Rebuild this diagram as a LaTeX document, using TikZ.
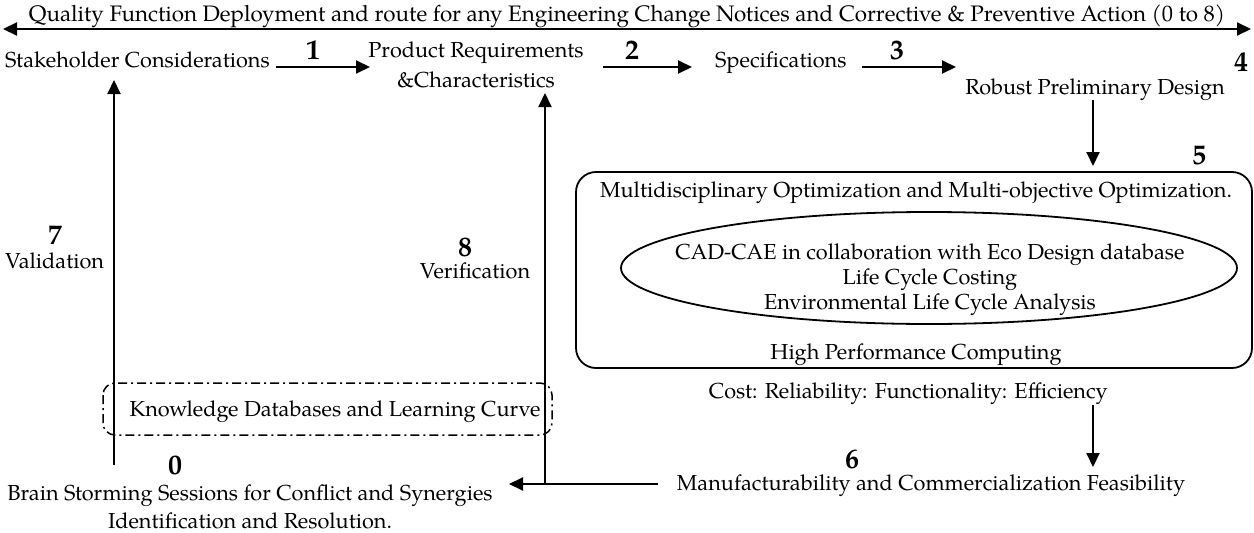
\documentclass[tikz,border=0pt]{standalone}
\usepackage{fontspec}
\setmainfont{texgyrepagella}[Extension=.otf, UprightFont=*-regular, BoldFont=*-bold, ItalicFont=*-italic, BoldItalicFont=*-bolditalic]
\usetikzlibrary{arrows.meta,shapes.geometric}

\tikzset{
  txt/.style={font=\fontsize{21.7}{29}\selectfont, inner sep=0pt, align=center},
  toptxt/.style={font=\fontsize{22.4}{29}\selectfont, inner sep=0pt},
  num/.style={font=\fontsize{28}{32}\selectfont\bfseries, inner sep=0pt},
  flow/.style={line width=2pt, -{Triangle[length=14pt,width=13pt]}},
  twoway/.style={line width=2pt, {Triangle[length=14pt,width=13pt]}-{Triangle[length=14pt,width=13pt]}},
  frame/.style={draw, line width=1.8pt, rounded corners=20pt},
  kbox/.style={draw, line width=1.5pt, rounded corners=12pt,
    dash pattern=on 9pt off 4pt on 2pt off 4pt},
}

\begin{document}
\begin{tikzpicture}[x=1pt,y=-1pt]
\useasboundingbox (0,0) rectangle (1254,533);

% overall route
\node[toptxt, anchor=base] (qfd) at (627,21) {Quality Function Deployment and route for any Engineering Change Notices and Corrective \& Preventive Action (0 to 8)};
\coordinate (qfdL) at (3,29);
\coordinate (qfdR) at (1251,29);
\draw[twoway] (qfdL) -- (qfdR);

% first row
\node[txt, anchor=base west] (stake) at (5,67) {Stakeholder Considerations};
\node[txt, anchor=base] (req1) at (476,57) {Product Requirements};
\node[txt, anchor=base] (req2) at (476,87) {\&Characteristics};
\node[txt, anchor=base west] (spec) at (715,67) {Specifications};
\node[txt, anchor=base] (robust) at (1095,94) {Robust Preliminary Design};

\coordinate (a1s) at (276,67); \coordinate (a1e) at (370,67);
\coordinate (a2s) at (603,67); \coordinate (a2e) at (692,67);
\coordinate (a3s) at (862,67); \coordinate (a3e) at (956,67);
\draw[flow] (a1s) -- (a1e);
\draw[flow] (a2s) -- (a2e);
\draw[flow] (a3s) -- (a3e);
\node[num] (n1) at (313,50) {1};
\node[num] (n2) at (632,50) {2};
\node[num] (n3) at (897,50) {3};
\node[num] (n4) at (1241,62) {4};

% optimisation block
\coordinate (d4s) at (1093,100); \coordinate (d4e) at (1093,166);
\draw[flow] (d4s) -- (d4e);
\node[num] (n5) at (1199,156) {5};
\draw[frame] (576,172) rectangle (1252,368);
\node[txt, anchor=base] (mdo) at (916,197) {Multidisciplinary Optimization and Multi-objective Optimization.};
\node[draw, line width=1.8pt, ellipse, minimum width=616pt, minimum height=112pt, inner sep=0pt] (eco) at (929,268) {};
\node[txt, anchor=base] (cad) at (930,259) {CAD-CAE in collaboration with Eco Design database};
\node[txt, anchor=base] (lcc) at (930,284) {Life Cycle Costing};
\node[txt, anchor=base] (lca) at (930,309) {Environmental Life Cycle Analysis};
\node[txt, anchor=base] (hpc) at (916,359) {High Performance Computing};
\node[txt, anchor=base east] (cost) at (1108,398) {Cost: Reliability: Functionality: Efficiency};

% manufacturing and feedback
\coordinate (d5s) at (1093,405); \coordinate (d5e) at (1093,467);
\draw[flow] (d5s) -- (d5e);
\node[txt, anchor=base] (manu) at (931,490) {Manufacturability and Commercialization Feasibility};
\node[num] (n6) at (852,459) {6};
\coordinate (m0s) at (658,484); \coordinate (m0e) at (509,484);
\coordinate (v8s) at (545,484); \coordinate (v8e) at (545,93);
\draw[flow] (m0s) -- (m0e);
\draw[flow] (v8s) -- (v8e);
\node[num] (n8) at (465,247) {8};
\node[txt, anchor=base] (verif) at (475,278) {Verification};

\coordinate (v7s) at (114,465); \coordinate (v7e) at (114,80);
\draw[flow] (v7s) -- (v7e);
\node[num] (n7) at (55,235) {7};
\node[txt, anchor=base west] (valid) at (5,268) {Validation};

% knowledge base
\draw[kbox] (103,383) rectangle (552,435);
\node[txt, anchor=base] (know) at (335,416) {Knowledge Databases and Learning Curve};

% brainstorming
\node[num] (n0) at (175,465) {0};
\node[txt, anchor=base] (brain1) at (250,500) {Brain Storming Sessions for Conflict and Synergies};
\node[txt, anchor=base] (brain2) at (250,528) {Identification and Resolution.};
\end{tikzpicture}
\end{document}
